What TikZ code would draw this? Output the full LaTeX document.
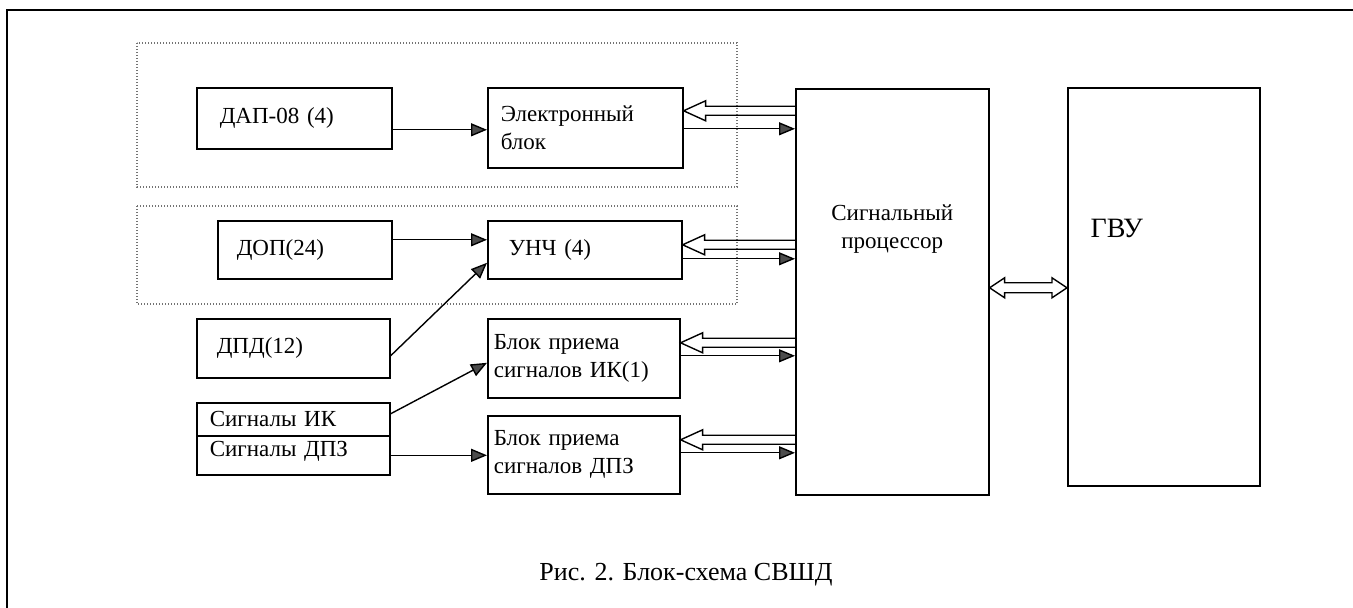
\documentclass[tikz,border=0pt]{standalone}
\usepackage{fontspec}
\setmainfont{Liberation Serif}
\usepackage{tikz}
\usetikzlibrary{calc,arrows.meta}
\tikzset{
  blk/.style={draw,line width=0.8pt,anchor=north west,align=left,inner ysep=0pt},
  sarr/.style={line width=0.7pt,-{Triangle[length=8pt,width=6.5pt,fill=black!70]}},
  harr/.style={line width=0.7pt,line join=miter,to path={let \p1=(\tikztostart),\p2=(\tikztotarget) in
    (\x1,\y1+2.25pt) -- (\x2+11pt,\y1+2.25pt) -- (\x2+11pt,\y1+5pt) -- (\x2,\y1)
    -- (\x2+11pt,\y1-5pt) -- (\x2+11pt,\y1-2.25pt) -- (\x1,\y1-2.25pt)}},
  darr/.style={line width=0.7pt,line join=miter,to path={let \p1=(\tikztostart),\p2=(\tikztotarget) in
    (\x1,\y1) -- (\x1+7.5pt,\y1+5pt) -- (\x1+7.5pt,\y1+2.5pt) -- (\x2-7.5pt,\y1+2.5pt)
    -- (\x2-7.5pt,\y1+5pt) -- (\x2,\y1) -- (\x2-7.5pt,\y1-5pt) -- (\x2-7.5pt,\y1-2.5pt)
    -- (\x1+7.5pt,\y1-2.5pt) -- (\x1+7.5pt,\y1-5pt) -- cycle}},
  grp/.style={black!55,line width=0.6pt,dash pattern=on 0.6pt off 0.9pt},
}
\begin{document}
\begin{tikzpicture}[x=0.5pt,y=-0.5pt,font=\fontsize{11.5}{14}\selectfont]
  \useasboundingbox (0,0) rectangle (1353,608);
  % frame and dotted groups
  \draw[line width=1.2pt] (7,608) -- (7,10) -- (1353,10);
  \draw[grp] (137,43) rectangle (737,187);
  \draw[grp] (137,206) rectangle (737,304);
  % sensors
  \node[blk,minimum width=97.5pt,minimum height=30.5pt,text width=74.5pt,inner xsep=11.5pt] (dap) at (196,87) {ДАП-08 (4)};
  \node[blk,minimum width=87pt,minimum height=29pt,text width=68pt,inner xsep=9.5pt] (dop) at (217,220) {ДОП(24)};
  \node[blk,minimum width=96.5pt,minimum height=29.5pt,text width=76.5pt,inner xsep=10pt] (dpd) at (196,318) {ДПД(12)};
  \node[blk,minimum width=96.5pt,minimum height=16.5pt,text width=83.5pt,inner xsep=6.5pt] (sigik) at (196,402) {Сигналы ИК};
  \node[blk,minimum width=96.5pt,minimum height=19.5pt,text width=83.5pt,inner xsep=6.5pt,text height=8pt,text depth=6.5pt] (sigdpz) at (196,435) {Сигналы ДПЗ};
  % receiving blocks
  \node[blk,minimum width=97.5pt,minimum height=40pt,text width=84.5pt,inner xsep=6.5pt] (elb) at (487,87) {Электронный\\блок};
  \node[blk,minimum width=97pt,minimum height=29pt,text width=76pt,inner xsep=10.5pt] (unch) at (487,220) {УНЧ (4)};
  \node[blk,minimum width=96pt,minimum height=39.5pt,text width=90pt,inner xsep=3pt] (bik) at (487,318) {Блок приема\\сигналов ИК(1)};
  \node[blk,minimum width=96pt,minimum height=39pt,text width=90pt,inner xsep=3pt] (bdpz) at (487,415) {Блок приема\\сигналов ДПЗ};
  % processor and host
  \node[blk,minimum width=96.5pt,minimum height=203pt,label={[align=center,yshift=31.5pt]center:Сигнальный\\процессор}] (proc) at (795,88) {};
  \node[blk,minimum width=96pt,minimum height=199pt,label={[font=\fontsize{14}{16}\selectfont,xshift=-23.5pt,yshift=29pt]center:ГВУ}] (gvu) at (1067,87) {};
  \node[font=\fontsize{13}{15}\selectfont] (cap) at (686,575) {Рис. 2. Блок-схема СВШД};
  % inputs
  \draw[sarr] ([yshift=-5.75pt]dap.east) -- ([yshift=-5.75pt]dap.east -| elb.west);
  \draw[sarr] ([yshift=5pt]dop.east) -- ([yshift=5pt]dop.east -| unch.west);
  \draw[sarr] ([yshift=-3.75pt]dpd.east) -- ([yshift=-6.5pt]unch.west);
  \draw[sarr] ([yshift=2.75pt]sigik.east) -- ([yshift=-2.25pt]bik.west);
  \draw[sarr] (sigdpz.east) -- (sigdpz.east -| bdpz.west);
  % links to processor
  \foreach \b/\h/\f in {elb/8.5pt/-0.5pt,unch/2.5pt/-4.5pt,bik/7.75pt/1.25pt,bdpz/7.5pt/1pt}
  {
    \draw[harr] ([yshift=\h]\b.east -| proc.west) to ([yshift=\h]\b.east);
    \draw[sarr] ([yshift=\f]\b.east) -- ([yshift=\f]\b.east -| proc.west);
  }
  \draw[darr] ([yshift=2pt]proc.east) to ([yshift=2pt]proc.east -| gvu.west);
\end{tikzpicture}
\end{document}
